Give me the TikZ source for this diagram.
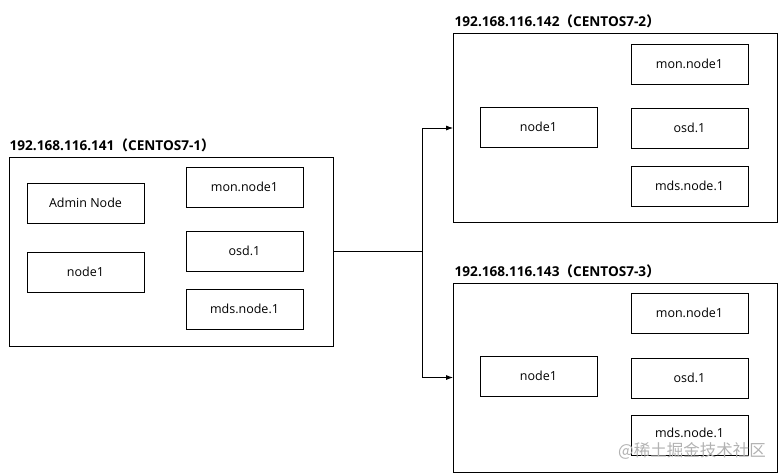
\documentclass[tikz,border=0pt]{standalone}
\usepackage{fontspec}
\setmainfont{Open Sans}
\newfontfamily\cjk{Noto Sans CJK SC}
\usepackage{tikz}
\usetikzlibrary{positioning}
\usetikzlibrary{arrows.meta}

\tikzset{
    host/.style={draw, rectangle, line width=0.8pt, minimum width=324pt, minimum height=189pt},
    svc/.style={draw, rectangle, line width=0.8pt, minimum width=117pt, minimum height=40pt, font=\fontsize{12.5}{15}\selectfont},
    hostlabel/.style={anchor=south west, inner sep=0pt, font=\bfseries\fontsize{13.6}{16}\selectfont},
    link/.style={line width=0.8pt, -{Latex[length=7pt,width=5pt]}}
}

\begin{document}
\begin{tikzpicture}[x=1pt, y=-1pt]
    \useasboundingbox (0,0) rectangle (780,475);
    % host 1
    \node (h1) at (171,251.5) [host] {};
    \node (h1l) at (9.5,152) [hostlabel] {192.168.116.141{\cjk\bfseries （}CENTOS7-1{\cjk\bfseries ）}};
    \node (h1admin) at (85.5,203) [svc] {Admin Node};
    \node (h1node) at (85.5,272) [svc] {node1};
    \node (h1mon) at (244.5,187) [svc] {mon.node1};
    \node (h1osd) at (244.5,251) [svc] {osd.1};
    \node (h1mds) at (244.5,309) [svc] {mds.node.1};
    % host 2
    \node (h2) at (615.5,128) [host] {};
    \node (h2l) at (454.5,28) [hostlabel] {192.168.116.142{\cjk\bfseries （}CENTOS7-2{\cjk\bfseries ）}};
    \node (h2node) at (538.5,127) [svc] {node1};
    \node (h2mon) at (689.5,64) [svc] {mon.node1};
    \node (h2osd) at (689.5,128) [svc] {osd.1};
    \node (h2mds) at (689.5,186) [svc] {mds.node.1};
    % host 3
    \node (h3) at (615.5,377.5) [host] {};
    \node (h3l) at (454.5,278) [hostlabel] {192.168.116.143{\cjk\bfseries （}CENTOS7-3{\cjk\bfseries ）}};
    \node (h3node) at (538.5,376) [svc] {node1};
    \node (h3mon) at (689.5,313) [svc] {mon.node1};
    \node (h3osd) at (689.5,378) [svc] {osd.1};
    \node (h3mds) at (689.5,435) [svc, text height=9pt, text depth=5pt] {mds.node.1};
    % links
    \coordinate (split) at (422,251.5);
    \draw[line width=0.8pt] (h1.east) -- (split);
    \draw[link] (split) |- (h2.west);
    \draw[link] (split) |- (h3.west);
    % watermark
    \node (wm) at (692,450.5) [font=\cjk\fontsize{16.5}{18}\selectfont, text=black!30, inner sep=0pt] {@稀土掘金技术社区};
\end{tikzpicture}
\end{document}
